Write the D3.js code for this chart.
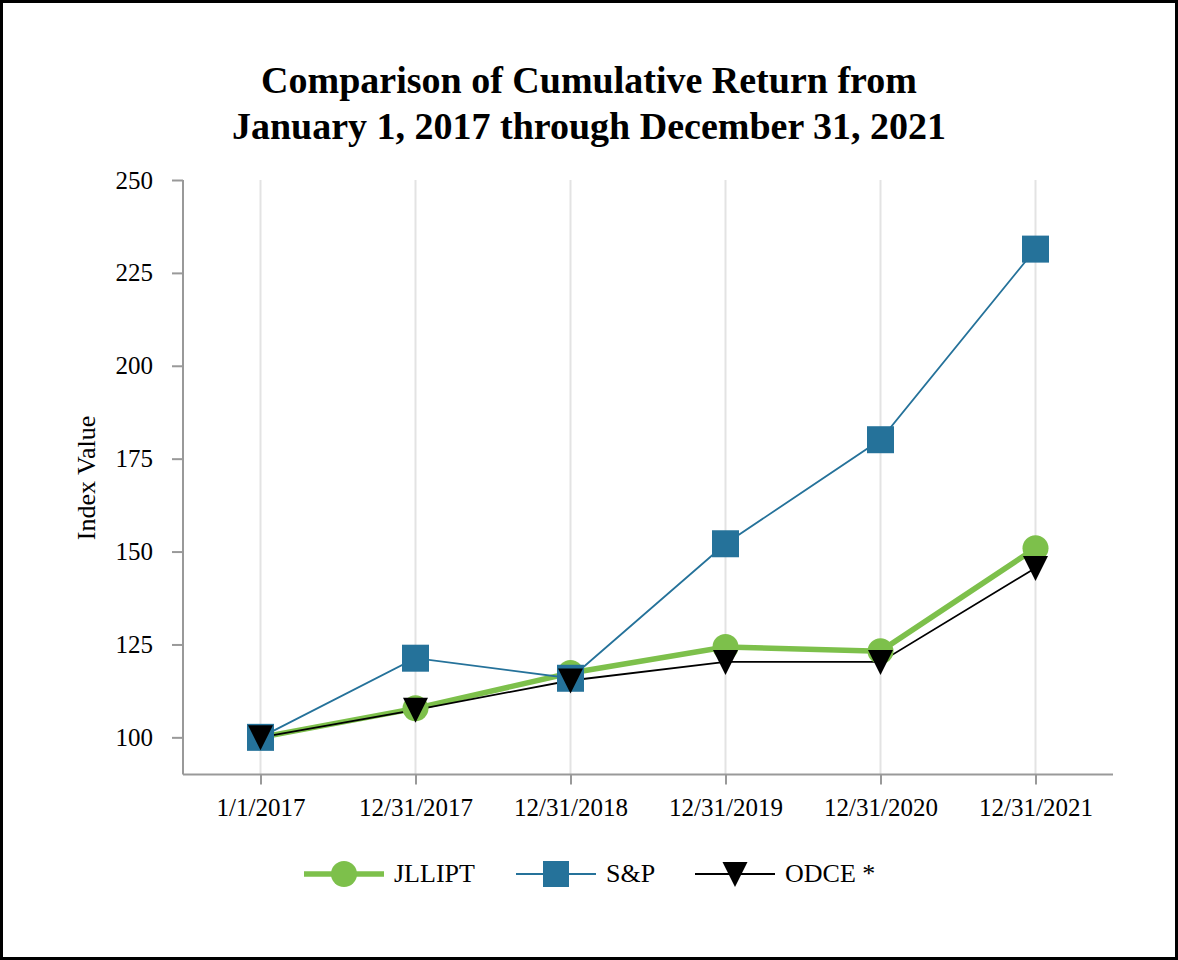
<!DOCTYPE html>
<html><head><meta charset="utf-8">
<script src="https://cdn.jsdelivr.net/npm/d3@7"></script>
<style>body{margin:0;background:#fff}svg{display:block}</style>
</head><body>
<script>
const categories = ["1/1/2017","12/31/2017","12/31/2018","12/31/2019","12/31/2020","12/31/2021"];
const jllipt = [100, 107.8, 117.3, 124.3, 123.2, 150.9];
const sp = [100, 121.3, 115.9, 152.1, 180.1, 231.4];
const odce = [100, 107.4, 115.3, 120.3, 120.3, 145.6];
const yTicks = [100, 125, 150, 175, 200, 225, 250];
const seriesNames = ["JLLIPT", "S&P", "ODCE *"];

(function(){
const W = 1178, H = 960;
const svg = d3.select("body").append("svg").attr("width", W).attr("height", H);
svg.append("rect").attr("x",1.5).attr("y",1.5).attr("width",W-3).attr("height",H-3)
  .attr("fill","#fff").attr("stroke","#000").attr("stroke-width",3);

const font = "'Liberation Serif','Times New Roman',serif";
svg.append("text").attr("x",589).attr("y",93).attr("text-anchor","middle")
  .attr("font-family",font).attr("font-weight","bold").attr("font-size",38)
  .text("Comparison of Cumulative Return from");
svg.append("text").attr("x",589).attr("y",139).attr("text-anchor","middle")
  .attr("font-family",font).attr("font-weight","bold").attr("font-size",38)
  .text("January 1, 2017 through December 31, 2021");

const pLeft = 183, pRight = 1113, pTop = 180, pBottom = 774.5;
const x = d3.scalePoint().domain(categories).range([pLeft, pRight]).padding(0.5);
const y = d3.scaleLinear().domain([90, 250]).range([pBottom, pTop]);

svg.append("g").selectAll("line").data(categories).join("line")
  .attr("x1", d=>x(d)).attr("x2", d=>x(d)).attr("y1", pTop).attr("y2", pBottom)
  .attr("stroke","#e3e3e3").attr("stroke-width",2);

const axColor = "#999";
const yAxis = svg.append("g").attr("transform",`translate(${pLeft},0)`)
  .call(d3.axisLeft(y).tickValues(yTicks).tickSize(11).tickPadding(19).tickSizeOuter(0));
const xAxis = svg.append("g").attr("transform",`translate(0,${pBottom})`)
  .call(d3.axisBottom(x).tickSize(10).tickPadding(14).tickSizeOuter(0));
[yAxis, xAxis].forEach(g=>{
  g.select(".domain").attr("stroke",axColor).attr("stroke-width",2);
  g.selectAll(".tick line").attr("stroke",axColor).attr("stroke-width",2);
  g.selectAll(".tick text").attr("fill","#000").attr("font-family",font).attr("font-size",25);
});
yAxis.select(".domain").attr("d", `M0,${pTop}V${pBottom}`);
xAxis.select(".domain").attr("d", `M${pLeft},0H${pRight}`);

svg.append("text").attr("transform",`translate(95,478) rotate(-90)`)
  .attr("text-anchor","middle").attr("font-family",font).attr("font-size",26)
  .text("Index Value");

const green = "#7dc04b", blue = "#25729a", black = "#000";
const line = d3.line().x((d,i)=>x(categories[i])).y(d=>y(d));

const g = svg.append("g");
g.append("path").datum(jllipt).attr("d",line).attr("fill","none").attr("stroke",green).attr("stroke-width",5.5);
g.append("path").datum(sp).attr("d",line).attr("fill","none").attr("stroke",blue).attr("stroke-width",1.8);
g.append("path").datum(odce).attr("d",line).attr("fill","none").attr("stroke",black).attr("stroke-width",1.8);

const tri = (cx, cy) => `M${cx-12.5},${cy-12}L${cx+12.5},${cy-12}L${cx},${cy+13}Z`;

g.selectAll(".c").data(jllipt).join("circle")
  .attr("cx",(d,i)=>x(categories[i])).attr("cy",d=>y(d)).attr("r",13).attr("fill",green);
g.selectAll(".s").data(sp).join("rect")
  .attr("x",(d,i)=>x(categories[i])-13.5).attr("y",d=>y(d)-13.5).attr("width",27).attr("height",27).attr("fill",blue);
g.selectAll(".t").data(odce).join("path")
  .attr("d",(d,i)=>tri(x(categories[i]), y(d))).attr("fill",black);

const ly = 874;
const legend = svg.append("g");
const items = [
  {name: seriesNames[0], x0: 304, color: green, w: 5.5, mark: "circle"},
  {name: seriesNames[1], x0: 516, color: blue, w: 1.8, mark: "square"},
  {name: seriesNames[2], x0: 695, color: black, w: 1.8, mark: "tri"}
];
items.forEach(it=>{
  legend.append("line").attr("x1",it.x0).attr("x2",it.x0+80).attr("y1",ly).attr("y2",ly)
    .attr("stroke",it.color).attr("stroke-width",it.w);
  const cx = it.x0+40;
  if (it.mark==="circle") legend.append("circle").attr("cx",cx).attr("cy",ly).attr("r",13).attr("fill",it.color);
  else if (it.mark==="square") legend.append("rect").attr("x",cx-13).attr("y",ly-13).attr("width",26).attr("height",26).attr("fill",it.color);
  else legend.append("path").attr("d",tri(cx,ly)).attr("fill",it.color);
  legend.append("text").attr("x",it.x0+90).attr("y",ly+8).attr("font-family",font).attr("font-size",26).text(it.name);
});
})();
</script>
</body></html>
